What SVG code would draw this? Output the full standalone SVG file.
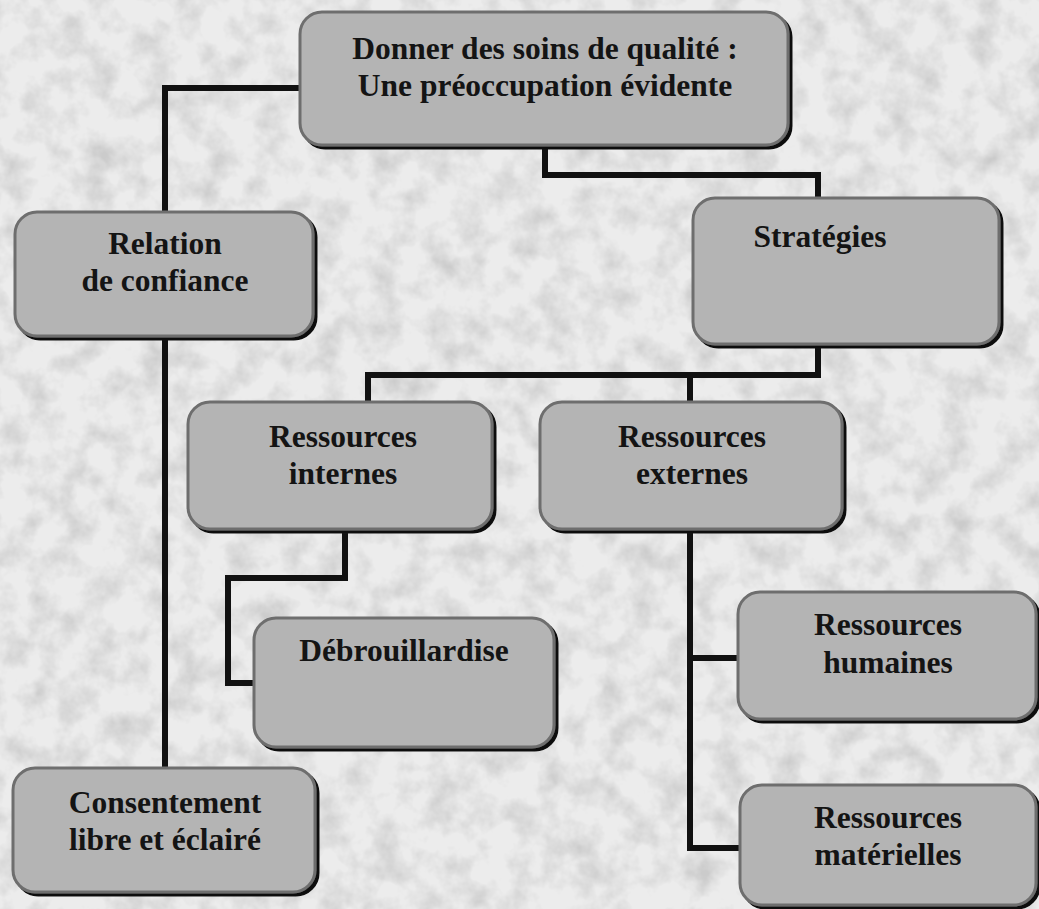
<svg xmlns="http://www.w3.org/2000/svg" width="1039" height="909" viewBox="0 0 1039 909">
<defs>
<filter id="tex" x="0" y="0" width="100%" height="100%">
<feTurbulence type="fractalNoise" baseFrequency="0.035" numOctaves="4" seed="3"/>
<feColorMatrix type="matrix" values="0 0 0 0 0.6  0 0 0 0 0.6  0 0 0 0 0.6  0 0 0 -2.0 1.2"/>
</filter>
<filter id="shd" x="-5%" y="-5%" width="110%" height="110%">
<feOffset dx="3" dy="3" in="SourceAlpha" result="o"/>
<feFlood flood-color="#111"/>
<feComposite in2="o" operator="in" result="s"/>
<feMerge><feMergeNode in="s"/><feMergeNode in="SourceGraphic"/></feMerge>
</filter>
</defs>
<style>
.box{fill:#b4b4b4;stroke:#6e6e6e;stroke-width:3;filter:url(#shd)}
.t{font-family:"Liberation Serif","Times New Roman","DejaVu Serif",serif;font-weight:bold;font-size:31.5px;fill:#141414;text-anchor:middle}
.c{fill:none;stroke:#111;stroke-width:6;stroke-linejoin:miter}
</style>
<rect width="1039" height="909" fill="#ececec"/>
<rect width="1039" height="909" filter="url(#tex)"/>
<g id="connectors">
<path class="c" d="M300,88 H165 V212"/>
<path class="c" d="M165,335 V770"/>
<path class="c" d="M545,145 V175 H818 V200"/>
<path class="c" d="M818,345 V375 H368 V402"/>
<path class="c" d="M690,375 V402"/>
<path class="c" d="M345,530 V578 H228 V683 H255"/>
<path class="c" d="M690,530 V848 H740"/>
<path class="c" d="M690,658 H740"/>
</g>
<g id="n-top"><rect class="box" x="300" y="12" width="488" height="133" rx="22"/>
<text class="t" x="545" y="59">Donner des soins de qualité :</text>
<text class="t" x="545" y="96">Une préoccupation évidente</text></g>
<g id="n-relation"><rect class="box" x="15" y="212" width="298" height="124" rx="22"/>
<text class="t" x="165" y="254">Relation</text>
<text class="t" x="165" y="291">de confiance</text></g>
<g id="n-strategies"><rect class="box" x="693" y="198" width="306" height="146" rx="22"/>
<text class="t" x="820" y="247">Stratégies</text></g>
<g id="n-internes"><rect class="box" x="188" y="402" width="304" height="127" rx="22"/>
<text class="t" x="343" y="447">Ressources</text>
<text class="t" x="343" y="484">internes</text></g>
<g id="n-externes"><rect class="box" x="540" y="402" width="302" height="127" rx="22"/>
<text class="t" x="692" y="447">Ressources</text>
<text class="t" x="692" y="484">externes</text></g>
<g id="n-debrouillardise"><rect class="box" x="254" y="618" width="300" height="129" rx="22"/>
<text class="t" x="404" y="661">Débrouillardise</text></g>
<g id="n-humaines"><rect class="box" x="738" y="592" width="298" height="127" rx="22"/>
<text class="t" x="888" y="635">Ressources</text>
<text class="t" x="888" y="673">humaines</text></g>
<g id="n-materielles"><rect class="box" x="740" y="785" width="296" height="120" rx="22"/>
<text class="t" x="888" y="828">Ressources</text>
<text class="t" x="888" y="865">matérielles</text></g>
<g id="n-consentement"><rect class="box" x="13" y="768" width="302" height="124" rx="22"/>
<text class="t" x="165" y="813">Consentement</text>
<text class="t" x="165" y="850">libre et éclairé</text></g>
</svg>
